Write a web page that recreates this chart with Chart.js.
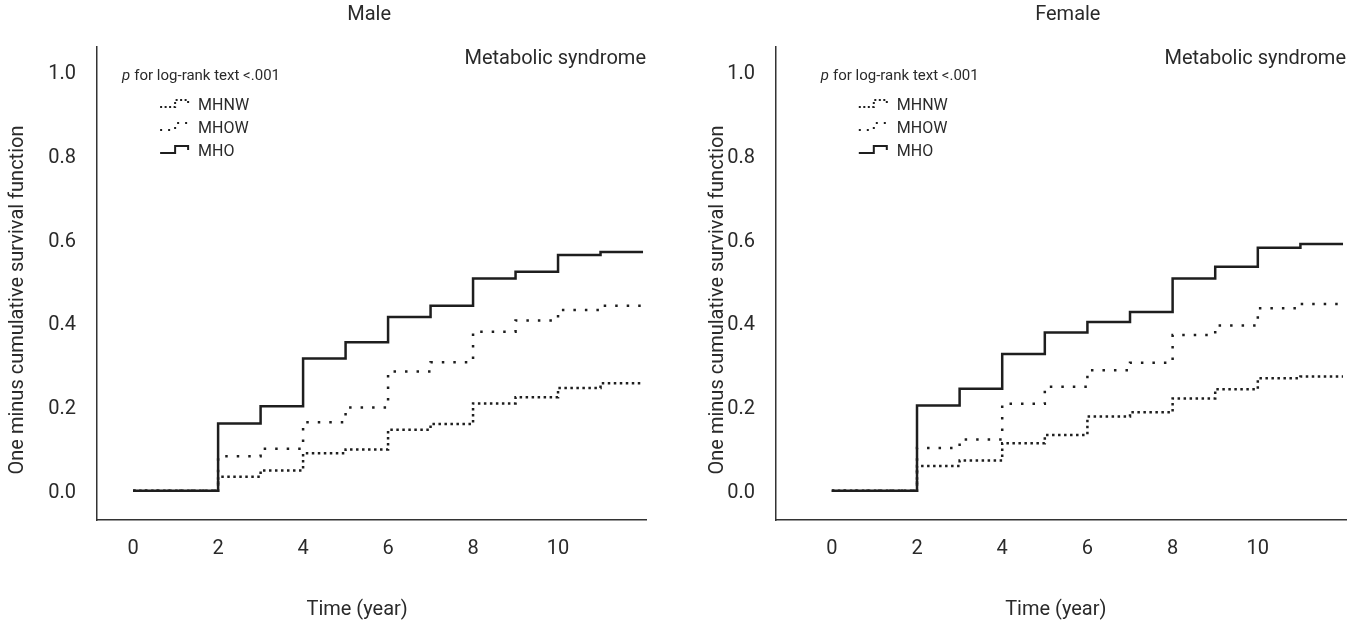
<!DOCTYPE html>
<html>
<head>
<meta charset="utf-8">
<script src="https://cdn.jsdelivr.net/npm/chart.js@4.4.1/dist/chart.umd.min.js"></script>
<style>
  body { margin: 0; background: #fff; }
  canvas { position: absolute; top: 0; }
  #male { left: 0; }
  #female { left: 700px; }
</style>
</head>
<body>
<canvas id="male" width="700" height="630"></canvas>
<canvas id="female" width="659" height="630"></canvas>
<script>
const years = [0, 2, 3, 4, 5, 6, 7, 8, 9, 10, 11, 12];
const groups = ['MHNW', 'MHOW', 'MHO'];

const maleMHNW = [0.006, 0.039, 0.054, 0.095, 0.104, 0.151, 0.165, 0.214, 0.229, 0.251, 0.262, 0.262];
const maleMHOW = [0.006, 0.088, 0.106, 0.169, 0.204, 0.290, 0.312, 0.385, 0.412, 0.437, 0.447, 0.447];
const maleMHO  = [0.006, 0.166, 0.207, 0.321, 0.360, 0.420, 0.447, 0.512, 0.528, 0.568, 0.575, 0.575];

const femaleMHNW = [0.006, 0.065, 0.078, 0.119, 0.139, 0.183, 0.193, 0.226, 0.248, 0.274, 0.278, 0.278];
const femaleMHOW = [0.006, 0.108, 0.128, 0.213, 0.254, 0.293, 0.311, 0.377, 0.400, 0.441, 0.451, 0.451];
const femaleMHO  = [0.006, 0.209, 0.249, 0.332, 0.383, 0.408, 0.432, 0.512, 0.540, 0.585, 0.594, 0.594];

const xTicks = [0, 2, 4, 6, 8, 10];
const yTicks = [0, 0.2, 0.4, 0.6, 0.8, 1.0];

const INK = '#1e1e1e';
const TXT = '#2a2a2a';
const FONT = 'Roboto';
const dashes = { MHNW: [2.5, 3.5], MHOW: [2.5, 9], MHO: [] };
const glyphDashes = { MHNW: [2, 2.5], MHOW: [2, 6], MHO: [] };

// titles, p-value note and the step-shaped legend
const overlay = {
  id: 'overlay',
  afterDraw(chart, args, opts) {
    const { ctx, chartArea: a } = chart;
    const x0 = chart.scales.x.getPixelForValue(0);
    ctx.save();
    ctx.fillStyle = TXT;
    ctx.textBaseline = 'middle';
    ctx.font = '20px ' + FONT;
    ctx.textAlign = 'center';
    ctx.fillText(opts.title, x0 + 236, 15);
    ctx.fillText('Time (year)', x0 + 224, 610);
    ctx.textAlign = 'right';
    ctx.fillText('Metabolic syndrome', a.right, 59);

    ctx.save();
    ctx.translate(18, 300);
    ctx.rotate(-Math.PI / 2);
    ctx.textAlign = 'center';
    ctx.fillText('One minus cumulative survival function', 0, 0);
    ctx.restore();

    ctx.textAlign = 'left';
    let x = x0 - 11;
    ctx.font = 'italic 15px ' + FONT;
    ctx.fillText('p', x, 76);
    x += ctx.measureText('p').width + 4;
    ctx.font = '15px ' + FONT;
    ctx.fillText('for log-rank text <.001', x, 76);

    ctx.font = '16px ' + FONT;
    groups.forEach((g, i) => {
      const y = 105 + i * 23;
      const gx = x0 + 27;
      ctx.strokeStyle = INK;
      ctx.lineWidth = 2;
      ctx.setLineDash(glyphDashes[g]);
      ctx.beginPath();
      ctx.moveTo(gx, y + 2);
      ctx.lineTo(gx + 15, y + 2);
      ctx.lineTo(gx + 15, y - 5);
      ctx.lineTo(gx + 28, y - 5);
      ctx.lineTo(gx + 28, y - 1);
      ctx.stroke();
      ctx.setLineDash([]);
      ctx.fillText(g, x0 + 65, y + 1);
    });
    ctx.restore();
  }
};

function series(label, values, order) {
  return {
    label: label,
    data: years.map((t, i) => ({ x: t, y: values[i] })),
    borderColor: INK,
    borderWidth: 2.5,
    borderDash: dashes[label],
    borderCapStyle: 'butt',
    stepped: true,
    pointRadius: 0,
    fill: false,
    order: order
  };
}

function createPanel(id, title, mhnw, mhow, mho, axisWidth, xMin, rightPad) {
  return new Chart(document.getElementById(id), {
    type: 'line',
    data: {
      datasets: [
        series('MHO', mho, 0),
        series('MHOW', mhow, 1),
        series('MHNW', mhnw, 2)
      ]
    },
    options: {
      responsive: false,
      animation: false,
      layout: { padding: { top: 47, right: rightPad, bottom: 0, left: 0 } },
      scales: {
        x: {
          type: 'linear',
          min: xMin,
          max: 12.07,
          afterBuildTicks: s => { s.ticks = xTicks.map(v => ({ value: v })); },
          afterFit: s => { s.height = 110; },
          grid: { display: false, drawTicks: false },
          border: { color: '#333', width: 1.5 },
          ticks: { color: TXT, padding: 17, font: { family: FONT, size: 20 } }
        },
        y: {
          min: -0.064,
          max: 1.064,
          afterBuildTicks: s => { s.ticks = yTicks.map(v => ({ value: v })); },
          afterFit: s => { s.width = axisWidth; },
          grid: { display: false, drawTicks: false },
          border: { color: '#333', width: 1.5 },
          ticks: { color: TXT, padding: 21, font: { family: FONT, size: 20 }, callback: v => v.toFixed(1) }
        }
      },
      plugins: {
        legend: { display: false },
        tooltip: { enabled: false },
        overlay: { title: title }
      }
    },
    plugins: [overlay]
  });
}

createPanel('male', 'Male', maleMHNW, maleMHOW, maleMHO, 97, -0.85, 54);
createPanel('female', 'Female', femaleMHNW, femaleMHOW, femaleMHO, 76, -1.31, 13);
</script>
</body>
</html>
